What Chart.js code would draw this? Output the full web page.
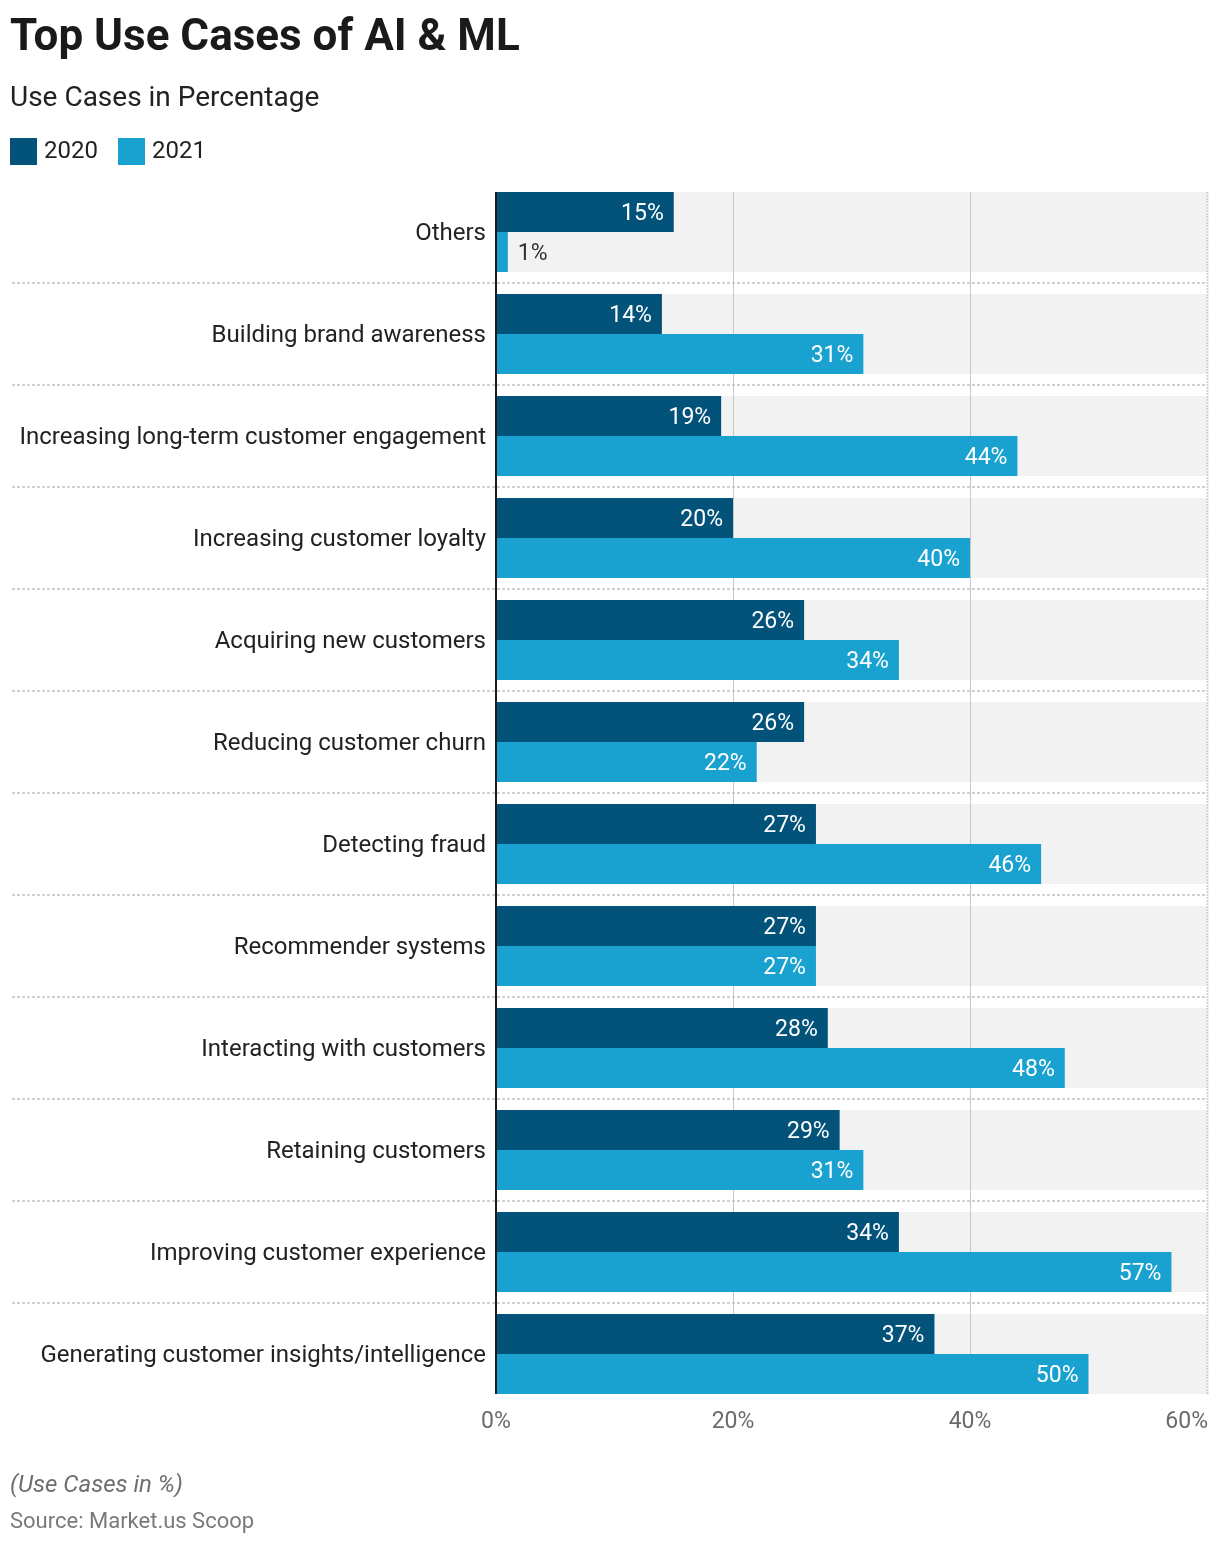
<!DOCTYPE html>
<html>
<head>
<meta charset="utf-8">
<script src="https://cdn.jsdelivr.net/npm/chart.js@4.4.1/dist/chart.umd.min.js"></script>
<style>
  html, body { margin: 0; padding: 0; background: #ffffff; }
  body { width: 1220px; height: 1546px; position: relative; overflow: hidden; font-family: Roboto, "Noto Sans", sans-serif; }
  #wrap { position: absolute; left: 0; top: 0; width: 1220px; height: 1546px; }
  .t { position: absolute; white-space: nowrap; line-height: 1; }
  #title { left: 10px; top: 13px; font-size: 44px; font-weight: 700; color: #1a1a1a; }
  #sub { left: 10px; top: 83px; font-size: 28px; color: #222; }
  .sw { position: absolute; width: 27px; height: 27px; top: 138px; }
  .lg { top: 138px; font-size: 24px; color: #222; }
  #note { left: 10px; top: 1472px; font-size: 24px; font-style: italic; color: #6e6e6e; }
  #src { left: 10px; top: 1510px; font-size: 22px; color: #7a7a7a; }
</style>
</head>
<body>
<div id="wrap"><canvas id="c" width="1220" height="1546"></canvas></div>
<div class="t" id="title">Top Use Cases of AI &amp; ML</div>
<div class="t" id="sub">Use Cases in Percentage</div>
<div class="sw" style="left:10px;background:#02527a"></div>
<div class="t lg" style="left:44px">2020</div>
<div class="sw" style="left:118px;background:#19a2cf"></div>
<div class="t lg" style="left:152px">2021</div>
<div class="t" id="note">(Use Cases in %)</div>
<div class="t" id="src">Source: Market.us Scoop</div>
<script>
const categories = [
  "Others",
  "Building brand awareness",
  "Increasing long-term customer engagement",
  "Increasing customer loyalty",
  "Acquiring new customers",
  "Reducing customer churn",
  "Detecting fraud",
  "Recommender systems",
  "Interacting with customers",
  "Retaining customers",
  "Improving customer experience",
  "Generating customer insights/intelligence"
];
const values2020 = [15, 14, 19, 20, 26, 26, 27, 27, 28, 29, 34, 37];
const values2021 = [1, 31, 44, 40, 34, 22, 46, 27, 48, 31, 57, 50];
const seriesNames = ["2020", "2021"];
const xTickValues = [0, 20, 40, 60];
const xTickLabels = ["0%", "20%", "40%", "60%"];

const COLOR_2020 = "#02527a";
const COLOR_2021 = "#19a2cf";
const CAT_PCT = 80 / 102;

const backgroundPlugin = {
  id: "bg",
  beforeDatasetsDraw(chart) {
    const ctx = chart.ctx;
    const xs = chart.scales.x, ys = chart.scales.y;
    const n = categories.length;
    const catH = (ys.bottom - ys.top) / n;
    const half = catH * CAT_PCT / 2;
    const left = xs.getPixelForValue(0), right = xs.getPixelForValue(60);
    ctx.save();
    ctx.fillStyle = "#f2f2f2";
    for (let i = 0; i < n; i++) {
      const cy = ys.getPixelForValue(i);
      ctx.fillRect(left, cy - half, right - left, half * 2);
    }
    const top = ys.getPixelForValue(0) - half;
    const bottom = ys.getPixelForValue(n - 1) + half;
    ctx.strokeStyle = "#d2d2d2";
    ctx.lineWidth = 2;
    ctx.setLineDash([3, 2]);
    for (let i = 0; i < n - 1; i++) {
      const y = Math.round(ys.getPixelForValue(i) + catH / 2);
      ctx.beginPath();
      ctx.moveTo(12, y);
      ctx.lineTo(right, y);
      ctx.stroke();
    }
    xTickValues.forEach((v) => {
      if (v === 0) return;
      const x = Math.round(xs.getPixelForValue(v)) + 0.5;
      if (v === 60) { ctx.setLineDash([2, 1]); ctx.strokeStyle = "#cfcfcf"; ctx.lineWidth = 2; }
      else { ctx.setLineDash([]); ctx.strokeStyle = "#c8c8c8"; ctx.lineWidth = 1; }
      ctx.beginPath();
      ctx.moveTo(x, top);
      ctx.lineTo(x, bottom);
      ctx.stroke();
    });
    ctx.restore();
  },
  afterDatasetsDraw(chart) {
    const ctx = chart.ctx;
    const xs = chart.scales.x, ys = chart.scales.y;
    const n = categories.length;
    const catH = (ys.bottom - ys.top) / n;
    const half = catH * CAT_PCT / 2;
    const top = ys.getPixelForValue(0) - half;
    const bottom = ys.getPixelForValue(n - 1) + half;
    ctx.save();
    ctx.strokeStyle = "#1a1a1a";
    ctx.lineWidth = 2;
    ctx.setLineDash([]);
    const x0 = xs.getPixelForValue(0);
    ctx.beginPath();
    ctx.moveTo(x0, top);
    ctx.lineTo(x0, bottom);
    ctx.stroke();
    ctx.font = "23px Roboto";
    ctx.textBaseline = "middle";
    chart.data.datasets.forEach((ds, di) => {
      const meta = chart.getDatasetMeta(di);
      meta.data.forEach((bar, i) => {
        const v = ds.data[i];
        const txt = v + "%";
        const w = ctx.measureText(txt).width;
        const barW = bar.x - bar.base;
        if (barW > w + 16) {
          ctx.fillStyle = "#ffffff";
          ctx.textAlign = "right";
          ctx.fillText(txt, bar.x - 10, bar.y + 2.5);
        } else {
          ctx.fillStyle = "#333333";
          ctx.textAlign = "left";
          ctx.fillText(txt, bar.x + 10, bar.y + 2.5);
        }
      });
    });
    ctx.font = "23px Roboto";
    ctx.fillStyle = "#6b6b6b";
    ctx.textBaseline = "alphabetic";
    xTickValues.forEach((v, k) => {
      const x = xs.getPixelForValue(v);
      const label = xTickLabels[k];
      const w = ctx.measureText(label).width;
      let lx = x - w / 2;
      if (lx + w > 1208) lx = 1208 - w;
      ctx.textAlign = "left";
      ctx.fillText(label, lx, 1428);
    });
    ctx.restore();
  }
};

new Chart(document.getElementById("c"), {
  type: "bar",
  data: {
    labels: categories,
    datasets: [
      { label: seriesNames[0], data: values2020, backgroundColor: COLOR_2020, categoryPercentage: CAT_PCT, barPercentage: 1.0, borderWidth: 0 },
      { label: seriesNames[1], data: values2021, backgroundColor: COLOR_2021, categoryPercentage: CAT_PCT, barPercentage: 1.0, borderWidth: 0 }
    ]
  },
  options: {
    indexAxis: "y",
    responsive: false,
    devicePixelRatio: 1,
    animation: false,
    layout: { padding: { top: 181, bottom: 141, left: 0, right: 13 } },
    plugins: { legend: { display: false }, tooltip: { enabled: false }, title: { display: false } },
    scales: {
      x: {
        display: false,
        min: 0, max: 60,
        ticks: { stepSize: 20 }
      },
      y: {
        grid: { display: false, drawTicks: false },
        border: { display: false },
        ticks: {
          autoSkip: false,
          padding: 10,
          labelOffset: 2,
          color: "#222222",
          font: { family: "Roboto", size: 24 }
        },
        afterFit(scale) { scale.width = 496; }
      }
    }
  },
  plugins: [backgroundPlugin]
});
</script>
</body>
</html>
